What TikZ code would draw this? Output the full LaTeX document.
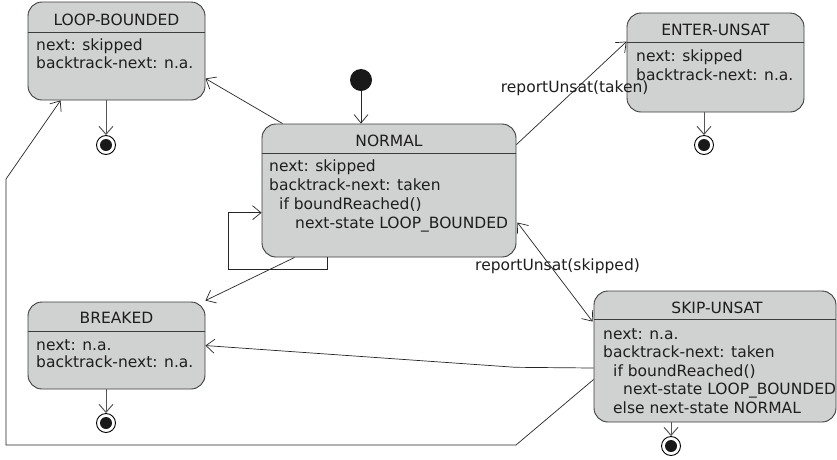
\documentclass[tikz,border=0pt]{standalone}
\usepackage{fontspec}
\setmainfont{DejaVu Sans}
\usetikzlibrary{arrows.meta,calc}

\definecolor{boxfill}{RGB}{208,209,209}
\definecolor{boxline}{RGB}{60,60,60}
\definecolor{textc}{RGB}{30,30,30}
\definecolor{endline}{RGB}{85,85,85}

\begin{document}
\begin{tikzpicture}[x=1pt,y=-1pt,
  state/.style={draw=boxline, fill=boxfill, rounded corners=14pt, line width=0.9pt, inner sep=0pt},
  divider/.style={draw=boxline, line width=0.9pt},
  txt/.style={anchor=base west, inner sep=0pt, text=textc, font=\fontsize{15.5}{18}\selectfont},
  ttl/.style={anchor=base, inner sep=0pt, text=textc, font=\fontsize{15.5}{18}\selectfont},
  lbl/.style={anchor=base west, inner sep=0pt, text=textc, font=\fontsize{15.5}{18}\selectfont},
  flow/.style={draw=black!85, line width=0.7pt, -{Straight Barb[length=8.5pt,width=14pt]}},
  flowboth/.style={draw=black!85, line width=0.7pt, {Straight Barb[length=8.5pt,width=14pt]}-{Straight Barb[length=8.5pt,width=14pt]}},
  toend/.style={draw=endline, line width=1pt, -{Straight Barb[length=8pt,width=14pt]}},
  finalring/.style={circle, draw=black, line width=0.9pt, fill=white, minimum size=19pt, inner sep=0pt},
  finaldot/.style={circle, fill=black!90, minimum size=12pt, inner sep=0pt},
  initdot/.style={circle, fill=black!90, minimum size=22pt, inner sep=0pt},
]
\useasboundingbox (0,0) rectangle (837,459);

% ---------- states ----------
\node[state, minimum width=177pt, minimum height=98pt]  (lb) at (116.5,51)  {};
\node[state, minimum width=254pt, minimum height=133pt] (nm) at (389,190.5) {};
\node[state, minimum width=177pt, minimum height=99pt]  (eu) at (715.5,62.5) {};
\node[state, minimum width=242pt, minimum height=131pt] (su) at (715,356.5) {};
\node[state, minimum width=177pt, minimum height=87pt]  (br) at (116.5,345.5) {};

\draw[divider] (lb.west |- 0,32)  -- (lb.east |- 0,32);
\draw[divider] (nm.west |- 0,153) -- (nm.east |- 0,153);
\draw[divider] (eu.west |- 0,42)  -- (eu.east |- 0,42);
\draw[divider] (su.west |- 0,319) -- (su.east |- 0,319);
\draw[divider] (br.west |- 0,331) -- (br.east |- 0,331);

% LOOP-BOUNDED
\node[ttl] (lbt) at (116.5,25) {LOOP-BOUNDED};
\node[txt] (lb1) at (36,50)   {next: skipped};
\node[txt] (lb2) at (36,68.3) {backtrack-next: n.a.};

% NORMAL
\node[ttl] (nmt) at (389,146) {NORMAL};
\node[txt] (nm1) at (269,171.7) {next: skipped};
\node[txt] (nm2) at (269,190.6) {backtrack-next: taken};
\node[txt] (nm3) at (279,209.4) {if boundReached()};
\node[txt] (nm4) at (295,228.3) {next-state LOOP\_BOUNDED};

% ENTER-UNSAT
\node[ttl] (eut) at (715.5,35) {ENTER-UNSAT};
\node[txt] (eu1) at (636,61.5) {next: skipped};
\node[txt] (eu2) at (636,80)   {backtrack-next: n.a.};

% SKIP-UNSAT
\node[ttl] (sut) at (717,313) {SKIP-UNSAT};
\node[txt] (su1) at (603,339)   {next: n.a.};
\node[txt] (su2) at (603,357.6) {backtrack-next: taken};
\node[txt] (su3) at (613,376.2) {if boundReached()};
\node[txt] (su4) at (623,394.8) {next-state LOOP\_BOUNDED};
\node[txt] (su5) at (613,413.4) {else next-state NORMAL};

% BREAKED
\node[ttl] (brt) at (116.5,323.3) {BREAKED};
\node[txt] (br1) at (36,350)   {next: n.a.};
\node[txt] (br2) at (36,367.7) {backtrack-next: n.a.};

% ---------- initial and final pseudo-states ----------
\node[initdot] (init) at (361,80) {};

\node[finalring] (lbend) at (106,145) {};
\node[finaldot] at (lbend) {};
\node[finalring] (euend) at (704,145) {};
\node[finaldot] at (euend) {};
\node[finalring] (brend) at (106,423) {};
\node[finaldot] at (brend) {};
\node[finalring] (suend) at (671,446) {};
\node[finaldot] at (suend) {};

% ---------- transitions ----------
\draw[flow] (init) -- (init |- nm.north);

% NORMAL -> LOOP-BOUNDED
\draw[flow] ($(nm.north west)+(21,0)$) -- ($(lb.north east)+(0,77)$);

% NORMAL -> ENTER-UNSAT
\draw[flow] ($(nm.north east)+(0,21)$) -- ($(eu.north west)+(0,29)$);
\node[lbl] (lt) at (500.7,92.7) {reportUnsat(taken)};

% NORMAL <-> SKIP-UNSAT
\draw[flowboth] ($(nm.north east)+(1,99)$) -- ($(su.north west)+(-1,31)$);
\node[lbl] (ls) at (475,270) {reportUnsat(skipped)};

% NORMAL self-loop
\coordinate (sl1) at ($(nm.south west)+(66,0)$);
\draw[flow] (sl1) -- ++(0,11.5) -| (228.3,212.7) -- (nm.west |- 0,212.7);

% NORMAL -> BREAKED
\draw[flow] ($(nm.south west)+(33,0)$) -- ($(br.north east)+(0,-1)$);

% SKIP-UNSAT -> BREAKED
\coordinate (sb) at (515.5,367.3);
\draw[flow] (su.west |- 0,368) -- (sb) -- ($(br.north east)+(0,44)$);

% SKIP-UNSAT -> LOOP-BOUNDED (long way round)
\coordinate (sk1) at (516,445);
\coordinate (sk2) at (6,445);
\coordinate (sk3) at (6,179);
\draw[flow] (su.west |- 0,379.5) -- (sk1) -- (sk2) -- (sk3) -- ($(lb.south west)+(33,0)$);

% to final states
\draw[toend] (lbend |- lb.south) -- (lbend.north);
\draw[toend] (euend |- eu.south) -- (euend.north);
\draw[toend] (brend |- br.south) -- (brend.north);
\draw[toend] (suend |- su.south) -- (suend.north);
\end{tikzpicture}
\end{document}
